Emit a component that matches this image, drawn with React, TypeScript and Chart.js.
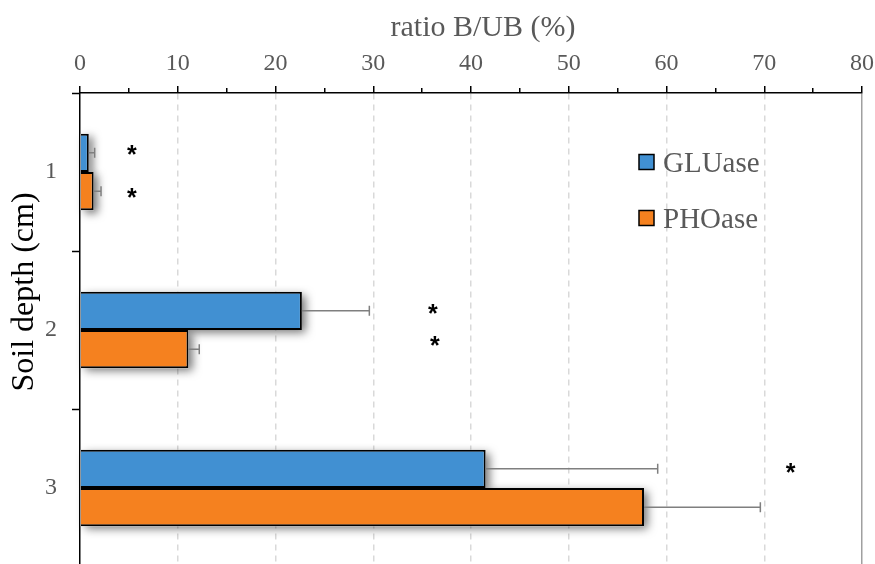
import React, { useEffect, useRef } from "react";
import { Chart, registerables } from "chart.js";

Chart.register(...registerables);

const depths = ["1", "2", "3"];
const seriesNames = ["GLUase", "PHOase"];
const gluValues = [0.9, 22.7, 41.5];
const gluErrors = [0.6, 6.9, 17.6];
const phoValues = [1.4, 11.1, 57.7];
const phoErrors = [0.75, 1.1, 11.9];
const seriesColors = ["#4190d2", "#f5811f"];
// significance marks: x value, y position in category units
const starX = [5.3, 5.3, 36.1, 36.3, 72.7];
const starY = [-0.12, 0.155, 0.885, 1.09, 1.89];
const xTitle = "ratio B/UB (%)";
const yTitle = "Soil depth (cm)";

const SERIF = '"Liberation Serif", "Times New Roman", serif';
const GRAY = "#595959";

const decorPlugin = {
  id: "decor",
  beforeDatasetsDraw(chart: any) {
    const ctx = chart.ctx;
    chart.data.datasets.forEach((_ds: any, i: number) => {
      const meta = chart.getDatasetMeta(i);
      meta.data.forEach((bar: any) => {
        const { x, y, base, height } = bar.getProps(["x", "y", "base", "height"], true);
        ctx.save();
        ctx.shadowColor = "rgba(0,0,0,0.55)";
        ctx.shadowBlur = 9;
        ctx.shadowOffsetX = 4;
        ctx.shadowOffsetY = 3;
        ctx.fillStyle = "#ffffff";
        ctx.fillRect(base, y - height / 2, x - base, height);
        ctx.restore();
      });
    });
  },
  afterDatasetsDraw(chart: any) {
    const ctx = chart.ctx;
    const xs = chart.scales.x;
    const ys = chart.scales.y;
    const errs = [gluErrors, phoErrors];
    const vals = [gluValues, phoValues];
    ctx.save();
    ctx.strokeStyle = "#7f7f7f";
    ctx.lineWidth = 1.5;
    chart.data.datasets.forEach((_ds: any, i: number) => {
      const meta = chart.getDatasetMeta(i);
      meta.data.forEach((bar: any, j: number) => {
        const { x, y } = bar.getProps(["x", "y"], true);
        const ex = xs.getPixelForValue(vals[i][j] + errs[i][j]);
        ctx.beginPath();
        ctx.moveTo(x, y);
        ctx.lineTo(ex, y);
        ctx.moveTo(ex, y - 5);
        ctx.lineTo(ex, y + 5);
        ctx.stroke();
      });
    });
    // asterisks
    ctx.fillStyle = "#000000";
    ctx.font = 'bold 25px "Liberation Sans", Arial, sans-serif';
    ctx.textAlign = "center";
    ctx.textBaseline = "alphabetic";
    starX.forEach((sx, k) => {
      const px = xs.getPixelForValue(sx);
      const py = ys.getPixelForValue(starY[k]);
      ctx.fillText("*", px, py + 10);
    });
    ctx.restore();
  },
  afterDraw(chart: any) {
    const ctx = chart.ctx;
    ctx.save();
    // legend
    const legendY = [162, 218];
    ctx.font = `29px ${SERIF}`;
    ctx.textAlign = "left";
    ctx.textBaseline = "alphabetic";
    seriesNames.forEach((name, i) => {
      const cy = legendY[i];
      ctx.fillStyle = seriesColors[i];
      ctx.fillRect(639, cy - 7.5, 15, 15);
      ctx.strokeStyle = "#000";
      ctx.lineWidth = 1.5;
      ctx.strokeRect(639, cy - 7.5, 15, 15);
      ctx.fillStyle = GRAY;
      ctx.fillText(name, 663, cy + 10);
    });
    // x title
    ctx.font = `30px ${SERIF}`;
    ctx.fillStyle = GRAY;
    ctx.textAlign = "center";
    ctx.fillText(xTitle, 483, 36);
    // y title
    ctx.font = `32px ${SERIF}`;
    ctx.translate(33, 292);
    ctx.rotate(-Math.PI / 2);
    ctx.fillStyle = "#000";
    ctx.fillText(yTitle, 0, 0);
    ctx.restore();
  },
};

export default function App() {
  const ref = useRef<HTMLCanvasElement>(null);
  useEffect(() => {
    if (!ref.current) return;
    Chart.defaults.font.family = SERIF;
    const chart = new Chart(ref.current, {
      type: "bar",
      data: {
        labels: depths,
        datasets: [
          {
            label: seriesNames[0],
            data: gluValues,
            backgroundColor: seriesColors[0],
            borderColor: "#000",
            borderWidth: 2,
            categoryPercentage: 0.485,
            barPercentage: 1,
          },
          {
            label: seriesNames[1],
            data: phoValues,
            backgroundColor: seriesColors[1],
            borderColor: "#000",
            borderWidth: 2,
            categoryPercentage: 0.485,
            barPercentage: 1,
          },
        ],
      },
      options: {
        indexAxis: "y",
        responsive: false,
        animation: false,
        devicePixelRatio: 1,
        layout: { padding: { top: 0, left: 0, right: 13, bottom: 0 } },
        plugins: { legend: { display: false }, tooltip: { enabled: false }, title: { display: false } },
        scales: {
          x: {
            type: "linear",
            position: "top",
            min: 0,
            max: 80,
            afterFit: (s: any) => {
              s.height = 93;
              s.paddingLeft = 0;
              s.paddingRight = 0;
              s.paddingTop = 0;
              s.paddingBottom = 0;
            },
            ticks: {
              stepSize: 5,
              color: GRAY,
              font: { size: 24, family: SERIF },
              padding: 8,
              maxRotation: 0,
              autoSkip: false,
              callback: (v: any) => (Number(v) % 10 === 0 ? String(v) : ""),
            },
            grid: {
              color: (c: any) => {
                const v = c.tick ? c.tick.value : 0;
                if (v === 0 || v % 10 !== 0) return "rgba(0,0,0,0)";
                if (v === 80) return "#a0a0a0";
                return "#d9d9d9";
              },
              lineWidth: 1.5,
              tickColor: "#000",
              tickWidth: 1.5,
              tickLength: 7,
              tickBorderDash: (c: any) => (c.tick && c.tick.value % 10 !== 0 ? [0, 2, 20] : []),
            },
            border: {
              color: "#000",
              width: 1.5,
              dash: (c: any) => (c.tick && c.tick.value === 80 ? [] : [6, 5]),
            },
          },
          y: {
            type: "category",
            afterFit: (s: any) => {
              s.width = 80;
              s.paddingLeft = 0;
              s.paddingRight = 0;
              s.paddingTop = 0;
              s.paddingBottom = 0;
            },
            ticks: {
              color: GRAY,
              font: { size: 24, family: SERIF },
              padding: 15,
            },
            grid: {
              offset: true,
              drawOnChartArea: false,
              tickColor: "#000",
              tickWidth: 1.5,
              tickLength: 8,
            },
            border: { color: "#000", width: 1.5 },
          },
        },
      },
      plugins: [decorPlugin],
    } as any);
    return () => chart.destroy();
  }, []);
  return (
    <div
      style={{
        position: "fixed",
        left: 0,
        top: 0,
        width: 875,
        height: 564,
        overflow: "hidden",
        background: "#fff",
      }}
    >
      <canvas ref={ref} width={875} height={567} style={{ display: "block", width: 875, height: 567 }} />
    </div>
  );
}
